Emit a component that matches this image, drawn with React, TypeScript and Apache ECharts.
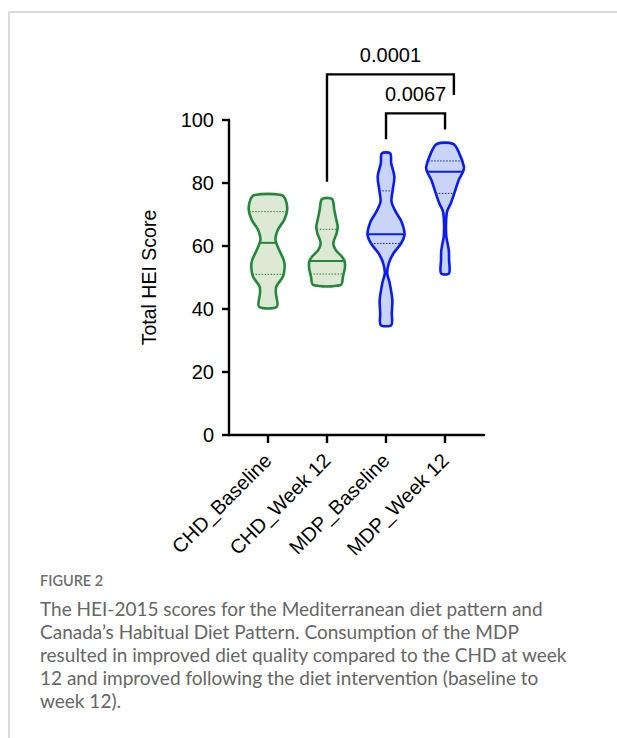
import React, { useEffect, useRef } from "react";
import * as echarts from "echarts";

const categories = ["CHD_Baseline", "CHD_Week 12", "MDP_Baseline", "MDP_Week 12"];
const categoryX = [1, 2, 3, 4];

// violin outlines: score levels (top to bottom) and half widths (x units)
const levelsCHDBase = [76.2, 74.6, 71.4, 68.3, 65.1, 62.4, 61.0, 58.7, 55.6, 53.4, 50.3, 47.1, 45.0, 40.7];
const widthsCHDBase = [0.225, 0.3, 0.325, 0.275, 0.166, 0.127, 0.14, 0.19, 0.266, 0.283, 0.254, 0.14, 0.135, 0.15];
const levelsCHDW12 = [74.9, 71.4, 68.3, 66.2, 64.1, 60.9, 58.7, 56.6, 55.2, 53.4, 50.3, 47.6];
const widthsCHDW12 = [0.085, 0.124, 0.158, 0.181, 0.164, 0.107, 0.149, 0.254, 0.297, 0.305, 0.271, 0.232];
const levelsMDPBase = [89.4, 86.3, 82.0, 77.8, 74.1, 70.9, 67.7, 63.7, 60.8, 57.7, 54.5, 51.3, 48.2, 42.9, 38.6, 34.9];
const widthsMDPBase = [0.071, 0.088, 0.141, 0.114, 0.093, 0.164, 0.263, 0.314, 0.254, 0.127, 0.047, 0.02, 0.063, 0.107, 0.098, 0.09];
const levelsMDPW12 = [92.4, 89.4, 85.2, 83.6, 81.0, 76.7, 73.6, 70.9, 67.2, 63.0, 58.7, 55.6, 51.3];
const widthsMDPW12 = [0.141, 0.241, 0.319, 0.305, 0.234, 0.156, 0.098, 0.034, 0.017, 0.022, 0.063, 0.068, 0.068];

const levels = [levelsCHDBase, levelsCHDW12, levelsMDPBase, levelsMDPW12];
const widths = [widthsCHDBase, widthsCHDW12, widthsMDPBase, widthsMDPW12];
const medians = [61.0, 55.2, 63.7, 83.6];
const quartile1 = [51.0, 51.1, 60.8, 76.7];
const quartile3 = [70.9, 65.3, 77.5, 87.0];

const yTicks = [0, 20, 40, 60, 80, 100];

// significance brackets
const bracketLeftX = [2, 3];
const bracketRightX = [4.15, 4];
const bracketTop = [114.5, 102.1];
const bracketLeftEnd = [80.4, 93.9];
const bracketRightEnd = [107.9, 97.0];
const pValues = ["0.0001", "0.0067"];

const strokeColors = ["#23883a", "#23883a", "#0a1cf2", "#0a1cf2"];
const fillColors = ["#dde9d5", "#dde9d5", "#c9d4f6", "#c9d4f6"];

const captionLines = [
  "The HEI-2015 scores for the Mediterranean diet pattern and",
  "Canada\u2019s Habitual Diet Pattern. Consumption of the MDP",
  "resulted in improved diet quality compared to the CHD at week",
  "12 and improved following the diet intervention (baseline to",
  "week 12).",
];

function widthAt(lv: number[], w: number[], v: number): number {
  for (let k = 0; k < lv.length - 1; k++) {
    const a = lv[k], b = lv[k + 1];
    if (v <= a && v >= b) {
      const t = (a - v) / (a - b);
      return w[k] + (w[k + 1] - w[k]) * t;
    }
  }
  return w[w.length - 1];
}

export default function App() {
  const ref = useRef<HTMLDivElement>(null);
  useEffect(() => {
    document.body.style.margin = "0";
    if (!ref.current) return;
    const chart = echarts.init(ref.current, null, { renderer: "svg" });
    const font = "Liberation Sans, Arial, sans-serif";

    const violinSeries: any = {
      type: "custom",
      clip: false,
      data: categories.map((_, i) => [categoryX[i], medians[i]]),
      renderItem: (params: any, api: any) => {
        const i = params.dataIndex;
        const cx = categoryX[i];
        const lv = levels[i];
        const w = widths[i];
        const right = lv.map((v, k) => api.coord([cx + w[k], v]));
        const left = lv.map((v, k) => api.coord([cx - w[k], v])).reverse();
        const pts = right.concat(left);
        const hl = (v: number, dashed: boolean) => {
          const hw = widthAt(lv, w, v);
          const p1 = api.coord([cx - hw, v]);
          const p2 = api.coord([cx + hw, v]);
          return {
            type: "line",
            shape: { x1: p1[0], y1: p1[1], x2: p2[0], y2: p2[1] },
            style: {
              stroke: strokeColors[i],
              lineWidth: dashed ? 1 : 2,
              lineDash: dashed ? [1.5, 1.5] : undefined,
            },
          };
        };
        return {
          type: "group",
          children: [
            {
              type: "polygon",
              shape: { points: pts, smooth: 0.3 },
              style: { fill: fillColors[i], stroke: "none" },
            },
            hl(quartile1[i], true),
            hl(quartile3[i], true),
            hl(medians[i], false),
            {
              type: "polygon",
              shape: { points: pts, smooth: 0.3 },
              style: { fill: "none", stroke: strokeColors[i], lineWidth: 2.6 },
            },
          ],
        };
      },
      z: 3,
    };

    const bracketSeries: any = {
      type: "custom",
      clip: false,
      data: pValues.map((_, i) => [bracketLeftX[i], bracketTop[i]]),
      renderItem: (params: any, api: any) => {
        const i = params.dataIndex;
        const a = api.coord([bracketLeftX[i], bracketLeftEnd[i]]);
        const b = api.coord([bracketLeftX[i], bracketTop[i]]);
        const c = api.coord([bracketRightX[i], bracketTop[i]]);
        const d = api.coord([bracketRightX[i], bracketRightEnd[i]]);
        return {
          type: "group",
          children: [
            {
              type: "polyline",
              shape: { points: [a, b, c, d] },
              style: { stroke: "#000", lineWidth: 2.4, fill: "none" },
            },
            {
              type: "text",
              x: (b[0] + c[0]) / 2,
              y: b[1] - 19.5,
              style: {
                text: pValues[i],
                fill: "#000",
                font: `20px ${font}`,
                align: "center",
                verticalAlign: "middle",
              },
            },
          ],
        };
      },
      z: 4,
    };

    const graphics: any[] = [
      { type: "line", shape: { x1: 9, y1: 12, x2: 617, y2: 12 }, style: { stroke: "#cfcfcf", lineWidth: 1.5 } },
      { type: "line", shape: { x1: 9, y1: 12, x2: 9, y2: 738 }, style: { stroke: "#cfcfcf", lineWidth: 1.5 } },
      {
        type: "text",
        x: 40,
        y: 580,
        style: { text: "FIGURE 2", fill: "#6e6e6e", font: `600 14.5px Lato, "Open Sans", sans-serif`, verticalAlign: "middle" },
      },
    ];
    captionLines.forEach((t, k) => {
      graphics.push({
        type: "text",
        x: 40,
        y: 608 + k * 23,
        style: { text: t, fill: "#666666", font: `19px Lato, "Open Sans", sans-serif`, verticalAlign: "middle" },
      });
    });

    chart.setOption({
      animation: false,
      grid: { left: 229, right: 133, top: 120, bottom: 303 },
      xAxis: {
        type: "value",
        min: 0.34,
        max: 4.66,
        splitLine: { show: false },
        axisLine: { show: true, lineStyle: { color: "#000", width: 2.4 } },
        axisTick: { show: true, customValues: categoryX, length: 8, lineStyle: { color: "#000", width: 2.4 } },
        axisLabel: {
          customValues: categoryX,
          rotate: 45,
          margin: 22,
          color: "#000",
          fontSize: 20,
          fontFamily: font,
          formatter: (v: number) => categories[categoryX.indexOf(Math.round(v))] ?? "",
        },
      },
      yAxis: {
        type: "value",
        min: 0,
        max: 100,
        interval: 20,
        name: "Total HEI Score",
        nameLocation: "middle",
        nameGap: 70,
        nameTextStyle: { color: "#000", fontSize: 19.5, fontFamily: font },
        splitLine: { show: false },
        axisLine: { show: true, lineStyle: { color: "#000", width: 2.4 } },
        axisTick: { show: true, length: 7, lineStyle: { color: "#000", width: 2.4 } },
        axisLabel: { color: "#000", fontSize: 20, fontFamily: font, margin: 15, customValues: yTicks },
      },
      series: [violinSeries, bracketSeries],
      graphic: graphics,
    });
    return () => chart.dispose();
  }, []);
  return <div ref={ref} style={{ width: 617, height: 738 }} />;
}
